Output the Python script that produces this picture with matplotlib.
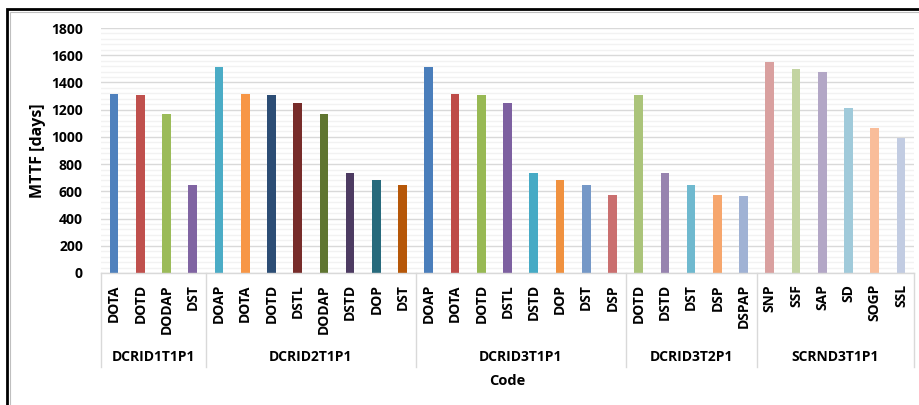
import matplotlib
matplotlib.use("Agg")
import matplotlib.pyplot as plt
from matplotlib.patches import Rectangle
from matplotlib.ticker import MultipleLocator
import matplotlib.transforms as mtransforms
import numpy as np

groups = ["DCRID1T1P1", "DCRID2T1P1", "DCRID3T1P1", "DCRID3T2P1", "SCRND3T1P1"]
codes_g1 = ["DOTA", "DOTD", "DODAP", "DST"]
codes_g2 = ["DOAP", "DOTA", "DOTD", "DSTL", "DODAP", "DSTD", "DOP", "DST"]
codes_g3 = ["DOAP", "DOTA", "DOTD", "DSTL", "DSTD", "DOP", "DST", "DSP"]
codes_g4 = ["DOTD", "DSTD", "DST", "DSP", "DSPAP"]
codes_g5 = ["SNP", "SSF", "SAP", "SD", "SOGP", "SSL"]

mttf_g1 = [1318, 1310, 1168, 648]
mttf_g2 = [1514, 1318, 1310, 1250, 1168, 737, 685, 648]
mttf_g3 = [1514, 1318, 1310, 1250, 737, 685, 648, 575]
mttf_g4 = [1310, 737, 648, 575, 568]
mttf_g5 = [1550, 1500, 1478, 1213, 1066, 994]

colors_g1 = ["#4F81BD", "#C0504D", "#9BBB59", "#8064A2"]
colors_g2 = ["#4BACC6", "#F79646", "#2C4D75", "#772C2A", "#5F7530", "#4D3B62", "#276A7C", "#B65708"]
colors_g3 = ["#4A7EBB", "#BE4B48", "#98B954", "#7D60A0", "#46AAC5", "#F0913F", "#7598C7", "#CA6F6F"]
colors_g4 = ["#ABC47A", "#9783AF", "#6FB9CF", "#F6A66D", "#A0B2D4"]
colors_g5 = ["#D9A09F", "#C3D4A2", "#B3A7C6", "#A0CADA", "#F9BD9A", "#C2CCE2"]

all_codes = [codes_g1, codes_g2, codes_g3, codes_g4, codes_g5]
all_vals = [mttf_g1, mttf_g2, mttf_g3, mttf_g4, mttf_g5]
all_cols = [colors_g1, colors_g2, colors_g3, colors_g4, colors_g5]

labels = [c for g in all_codes for c in g]
values = [v for g in all_vals for v in g]
colors = [c for g in all_cols for c in g]
x = np.arange(len(labels))

plt.rcParams['font.family'] = ['Open Sans', 'DejaVu Sans']
FS = 10

fig = plt.figure(figsize=(9.2, 4.05), dpi=100)
ax = fig.add_axes([101/920, 1-273/405, (914-101)/920, (273-28)/405])

ax.bar(x, values, width=0.33, color=colors, zorder=3)
ax.set_xlim(-0.5, len(labels)-0.5)
ax.set_ylim(0, 1800)
ax.yaxis.set_major_locator(MultipleLocator(200))
ax.yaxis.set_minor_locator(MultipleLocator(40))
ax.grid(axis='y', which='major', color='#D9D9D9', lw=1.0, zorder=0)
ax.grid(axis='y', which='minor', color='#F2F2F2', lw=1.0, zorder=0)
for s in ['left', 'right', 'top']:
    ax.spines[s].set_visible(False)
ax.spines['bottom'].set_color('#D9D9D9')
ax.spines['bottom'].set_linewidth(1.0)
ax.spines['bottom'].set_zorder(4)

ax.set_xticks(x)
ax.set_xticklabels(labels, rotation=90, va='top', ha='center',
                   fontsize=FS, fontweight='bold')
ax.tick_params(axis='x', length=0, pad=8)
ax.tick_params(axis='y', which='both', length=0, pad=13, labelsize=FS)
for t in ax.get_yticklabels():
    t.set_fontweight('bold')

trans = mtransforms.blended_transform_factory(ax.transData, ax.transAxes)
start = 0
bounds = [-0.5]
for g, codes in zip(groups, all_codes):
    n = len(codes)
    center = start + (n-1)/2
    ax.text(center, -0.343, g, transform=trans, ha='center', va='center',
            fontsize=FS, fontweight='bold')
    start += n
    bounds.append(start - 0.5)
for b in bounds:
    ax.plot([b, b], [0, -0.384], transform=trans, color='#D9D9D9', lw=1.0,
            clip_on=False, zorder=2)

fig.text(507/920, 1-381/405, "Code", ha='center', va='center',
         fontsize=10.5, fontweight='bold')
fig.text(38/920, 1-151/405, "MTTF [days]", ha='center', va='center',
         rotation=90, fontsize=11.5, fontweight='bold')

# outer frame
fig.patches.append(Rectangle((7/920, -0.1), 1.2, 1-9/405+0.1,
                             transform=fig.transFigure, fill=False,
                             edgecolor='black', lw=2.0))
fig.patches.append(Rectangle((10/920, -0.1), 1.2, 1-12/405+0.1,
                             transform=fig.transFigure, fill=False,
                             edgecolor='#BFBFBF', lw=0.8))

fig.savefig("out.png", dpi=100)
